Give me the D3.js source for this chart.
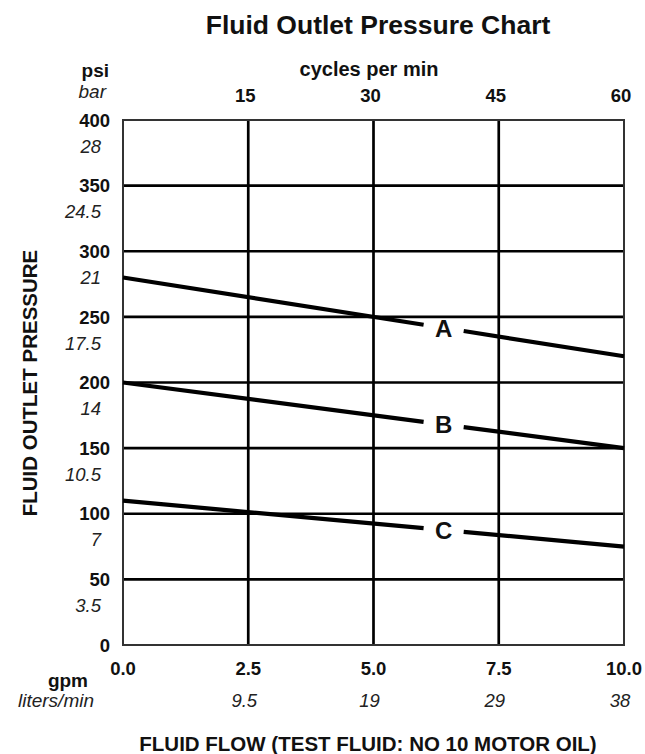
<!DOCTYPE html>
<html><head><meta charset="utf-8">
<script src="https://cdn.jsdelivr.net/npm/d3@7"></script>
<style>
html,body{margin:0;padding:0;background:#fff;}
svg{display:block;font-family:"Liberation Sans",Arial,Helvetica,sans-serif;}
</style></head>
<body>
<svg id="c" width="645" height="754"></svg>
<script>
// ---- data ----
const title = "Fluid Outlet Pressure Chart";
const gpmTicks = [0, 2.5, 5, 7.5, 10];
const gpmLabels = ["0.0", "2.5", "5.0", "7.5", "10.0"];
const lpmLabels = ["", "9.5", "19", "29", "38"];
const cpmTicks = [15, 30, 45, 60];
const psiTicks = [0, 50, 100, 150, 200, 250, 300, 350, 400];
const barLabels = ["", "3.5", "7", "10.5", "14", "17.5", "21", "24.5", "28"];
const flowGpm = [0, 10];
const seriesNames = ["A", "B", "C"];
const seriesA = [280, 220];
const seriesB = [200, 150];
const seriesC = [110, 75];
const labelGpm = 6.4;       // where the series letter sits
const gapGpm = [6.0, 6.8];  // gap in the line around the letter

// ---- chart ----
const svg = d3.select("#c");
const L = 123, R = 624, T = 120, B = 645;
const x = d3.scaleLinear().domain([0, 10]).range([L, R]);
const xc = d3.scaleLinear().domain([0, 60]).range([L, R]);
const y = d3.scaleLinear().domain([0, 400]).range([B, T]);
const INK = "#111";

// title
svg.append("text").attr("x", 378).attr("y", 34).attr("text-anchor", "middle")
  .attr("font-size", 26.5).attr("font-weight", "bold").attr("fill", INK).text(title);

// grid
const g = svg.append("g");
g.selectAll("line.h").data(psiTicks.filter(d => d > 0 && d < 400)).join("line")
  .attr("x1", L).attr("x2", R).attr("y1", d => y(d)).attr("y2", d => y(d))
  .attr("stroke", "#000").attr("stroke-width", 2.7);
g.selectAll("line.v").data(gpmTicks.filter(d => d > 0 && d < 10)).join("line")
  .attr("y1", T).attr("y2", B).attr("x1", d => x(d)).attr("x2", d => x(d))
  .attr("stroke", "#000").attr("stroke-width", 2.7);
// frame
g.append("rect").attr("x", L).attr("y", T).attr("width", R - L).attr("height", B - T)
  .attr("fill", "none").attr("stroke", "#333").attr("stroke-width", 2);

// series lines
const series = [seriesA, seriesB, seriesC];
const line = d3.line().x(d => x(d[0])).y(d => y(d[1]));
series.forEach((vals, i) => {
  const pts = flowGpm.map((f, k) => [f, vals[k]]);
  const p = svg.append("path").attr("d", line(pts)).attr("fill", "none")
    .attr("stroke", "#000").attr("stroke-width", 4.2);
  const len = p.node().getTotalLength();
  const f1 = (gapGpm[0] - flowGpm[0]) / (flowGpm[1] - flowGpm[0]);
  const f2 = (gapGpm[1] - flowGpm[0]) / (flowGpm[1] - flowGpm[0]);
  p.attr("stroke-dasharray", `${f1 * len} ${(f2 - f1) * len} ${len}`);
  const v = vals[0] + (vals[1] - vals[0]) * (labelGpm - flowGpm[0]) / (flowGpm[1] - flowGpm[0]);
  svg.append("text").attr("x", x(labelGpm)).attr("y", y(v)).attr("dy", "0.36em")
    .attr("text-anchor", "middle").attr("font-size", 24).attr("font-weight", "bold")
    .attr("fill", INK).text(seriesNames[i]);
});

// left axis labels
svg.selectAll("text.psi").data(psiTicks).join("text")
  .attr("x", 110).attr("y", d => y(d)).attr("dy", "0.36em").attr("text-anchor", "end")
  .attr("font-size", 18.5).attr("font-weight", "bold").attr("fill", INK).text(d => d);
svg.selectAll("text.bar").data(psiTicks).join("text")
  .attr("x", 101).attr("y", d => y(d) + 26).attr("dy", "0.36em").attr("text-anchor", "end")
  .attr("font-size", 18.5).attr("font-style", "italic").attr("fill", "#222")
  .text((d, i) => barLabels[i]);
svg.append("text").attr("x", 109).attr("y", 77).attr("text-anchor", "end")
  .attr("font-size", 19).attr("font-weight", "bold").attr("fill", INK).text("psi");
svg.append("text").attr("x", 106).attr("y", 98).attr("text-anchor", "end")
  .attr("font-size", 19).attr("font-style", "italic").attr("fill", "#222").text("bar");
svg.append("text").attr("transform", "translate(37,383) rotate(-90)").attr("text-anchor", "middle")
  .attr("font-size", 20.5).attr("font-weight", "bold").attr("fill", INK).text("FLUID OUTLET PRESSURE");

// top axis
svg.append("text").attr("x", 369).attr("y", 76).attr("text-anchor", "middle")
  .attr("font-size", 20).attr("font-weight", "bold").attr("fill", INK).text("cycles per min");
svg.selectAll("text.cpm").data(cpmTicks).join("text")
  .attr("x", d => xc(d) - 3).attr("y", 102).attr("text-anchor", "middle")
  .attr("font-size", 18.5).attr("font-weight", "bold").attr("fill", INK).text(d => d);

// bottom axis
svg.selectAll("text.gpm").data(gpmTicks).join("text")
  .attr("x", d => x(d)).attr("y", 675).attr("text-anchor", "middle")
  .attr("font-size", 18.5).attr("font-weight", "bold").attr("fill", INK).text((d, i) => gpmLabels[i]);
svg.selectAll("text.lpm").data(gpmTicks).join("text")
  .attr("x", d => x(d) - 4).attr("y", 707).attr("text-anchor", "middle")
  .attr("font-size", 18.5).attr("font-style", "italic").attr("fill", "#222").text((d, i) => lpmLabels[i]);
svg.append("text").attr("x", 88).attr("y", 687).attr("text-anchor", "end")
  .attr("font-size", 19).attr("font-weight", "bold").attr("fill", INK).text("gpm");
svg.append("text").attr("x", 94).attr("y", 707).attr("text-anchor", "end")
  .attr("font-size", 19).attr("font-style", "italic").attr("fill", "#222").text("liters/min");
svg.append("text").attr("x", 368).attr("y", 751).attr("text-anchor", "middle")
  .attr("font-size", 20.5).attr("font-weight", "bold").attr("fill", INK)
  .text("FLUID FLOW (TEST FLUID: NO 10 MOTOR OIL)");
</script>
</body></html>
